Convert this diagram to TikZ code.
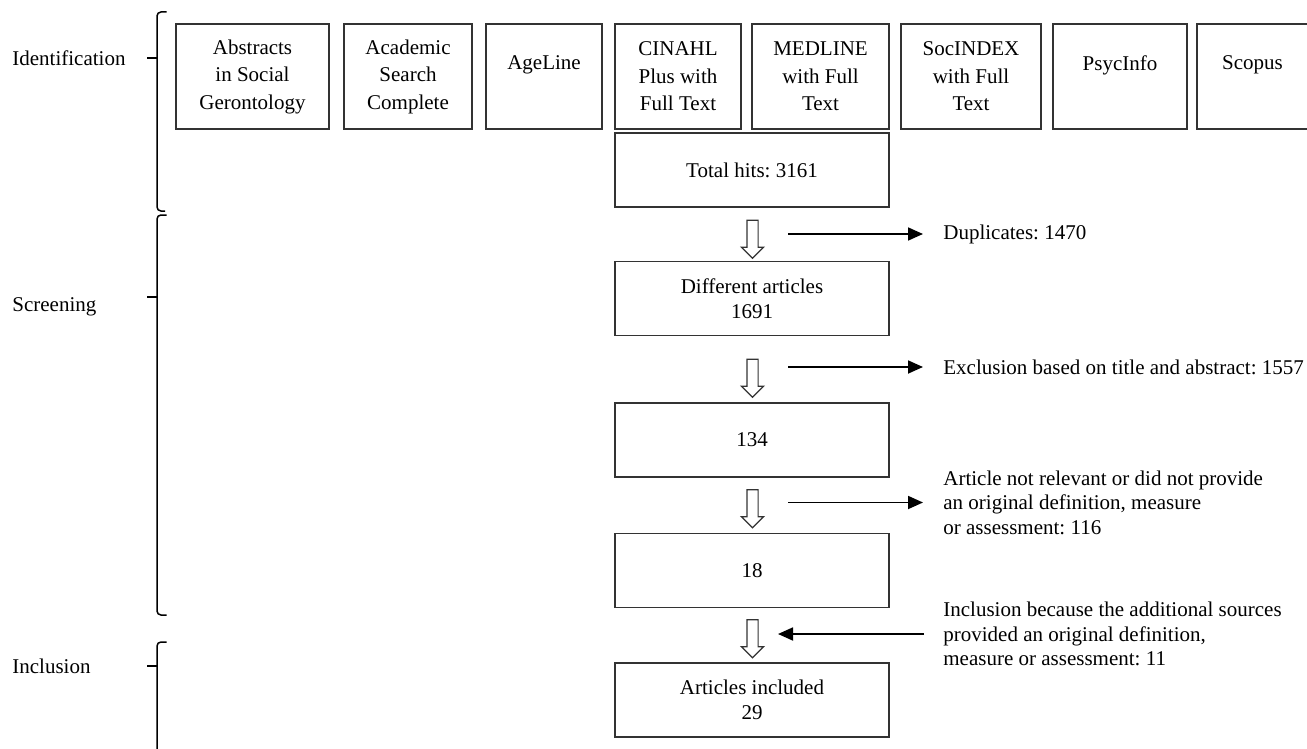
\documentclass[tikz,border=0pt]{standalone}
\usepackage{fontspec}
\setmainfont{Liberation Serif}
\frenchspacing
\usepackage{tikz}
\usetikzlibrary{arrows.meta,shapes.arrows,calc}

\tikzset{
  dbbox/.style={draw=black!80, line width=0.75pt, align=center, inner sep=0pt, minimum height=52.5pt, font=\fontsize{10.5}{13.75}\selectfont},
  flowbox/.style={draw=black!80, line width=0.75pt, align=center, inner sep=0pt, minimum width=137pt, minimum height=37pt, font=\fontsize{10.5}{12.5}\selectfont},
  note/.style={anchor=west, align=left, inner sep=0pt, font=\fontsize{10.5}{12.25}\selectfont},
  phase/.style={anchor=west, inner sep=0pt, font=\fontsize{10.5}{12}\selectfont},
  hollow/.style={single arrow, draw=black!80, line width=0.6pt, fill=white, rotate=-90, minimum height=19pt, inner xsep=0pt, inner ysep=2.5pt, text height=0pt, text depth=0pt, single arrow head extend=2.75pt, single arrow tip angle=90},
  sidearr/.style={line width=0.9pt, -{Triangle[length=7.5pt,width=6.5pt]}},
  phasebrace/.style={line width=0.75pt, rounded corners=2pt}
}

\begin{document}
\begin{tikzpicture}[x=0.5pt,y=-0.5pt]
\pgfmathsetmacro{\dby}{76.5}  
\pgfmathsetmacro{\flowx}{752}  
\pgfmathsetmacro{\notex}{943}  
\useasboundingbox (0,0) rectangle (1307,749);
\clip (0,0) rectangle (1307,749);

% phases
\node[phase] (ident) at (12,58) {Identification};
\node[phase] (screen) at (12,307) {Screening};
\node[phase] (incl) at (12,666) {Inclusion};
\draw[phasebrace] (166.5,12) -| (157,211) -- (165,211);
\draw[phasebrace] (157,58) -- (147,58);
\draw[phasebrace] (166.5,215) -| (157,615) -- (166.5,615);
\draw[phasebrace] (157,297) -- (147,297);
\draw[phasebrace] (166.5,642) -| (157,760);
\draw[phasebrace] (157,666) -- (147,666);

% databases
\node[dbbox, minimum width=76.5pt] (asg) at (252.5,\dby) {Abstracts\\in Social\\Gerontology};
\node[dbbox, minimum width=64pt] (asc) at (408,\dby) {Academic\\Search\\Complete};
\node[dbbox, minimum width=58pt] (age) at (544,\dby) {AgeLine\\~};
\node[dbbox, minimum width=63pt] (cin) at (678,\dby) {CINAHL\\Plus with\\Full Text};
\node[dbbox, minimum width=68.5pt] (med) at (820.5,\dby) {MEDLINE\\with Full\\Text};
\node[dbbox, minimum width=70pt] (soc) at (971,\dby) {SocINDEX\\with Full\\Text};
\node[dbbox, minimum width=67pt] (psy) at (1120,\dby) {PsycInfo\\~};
\node[dbbox, minimum width=55.5pt] (sco) at (1252.5,\dby) {Scopus\\~};

% flow
\node[flowbox] (hits) at (\flowx,170) {Total hits: 3161};
\node[flowbox] (diff) at (\flowx,298.5) {Different articles\\1691};
\node[flowbox] (n134) at (\flowx,440) {134};
\node[flowbox] (n18) at (\flowx,570.5) {18};
\node[flowbox] (final) at (\flowx,700) {Articles included\\29};

\node[hollow] (h1) at (752.5,236.5) {};
\node[hollow] (h2) at (752.5,375.5) {};
\node[hollow] (h3) at (752.5,506) {};
\node[hollow] (h4) at (752.5,636) {};

% side notes
\node[note] (dup) at (\notex,234) {Duplicates: 1470};
\node[note] (excl) at (\notex,367) {Exclusion based on title and abstract: 1557};
\node[note] (notrel) at (\notex,502.5) {Article not relevant or did not provide\\an original definition, measure\\or assessment: 116};
\node[note] (addl) at (\notex,634) {Inclusion because the additional sources\\provided an original definition,\\measure or assessment: 11};

\coordinate (tail) at (788,0);
\coordinate (head) at (778,0);
\draw[sidearr, shorten >=10pt] (tail |- dup.west) -- (dup.west);
\draw[sidearr, shorten >=10pt] (tail |- excl.west) -- (excl.west);
\draw[sidearr, shorten >=10pt] (tail |- notrel.west) -- (notrel.west);
\draw[sidearr, shorten <=9.5pt] (addl.west) -- (head |- addl.west);
\end{tikzpicture}
\end{document}
